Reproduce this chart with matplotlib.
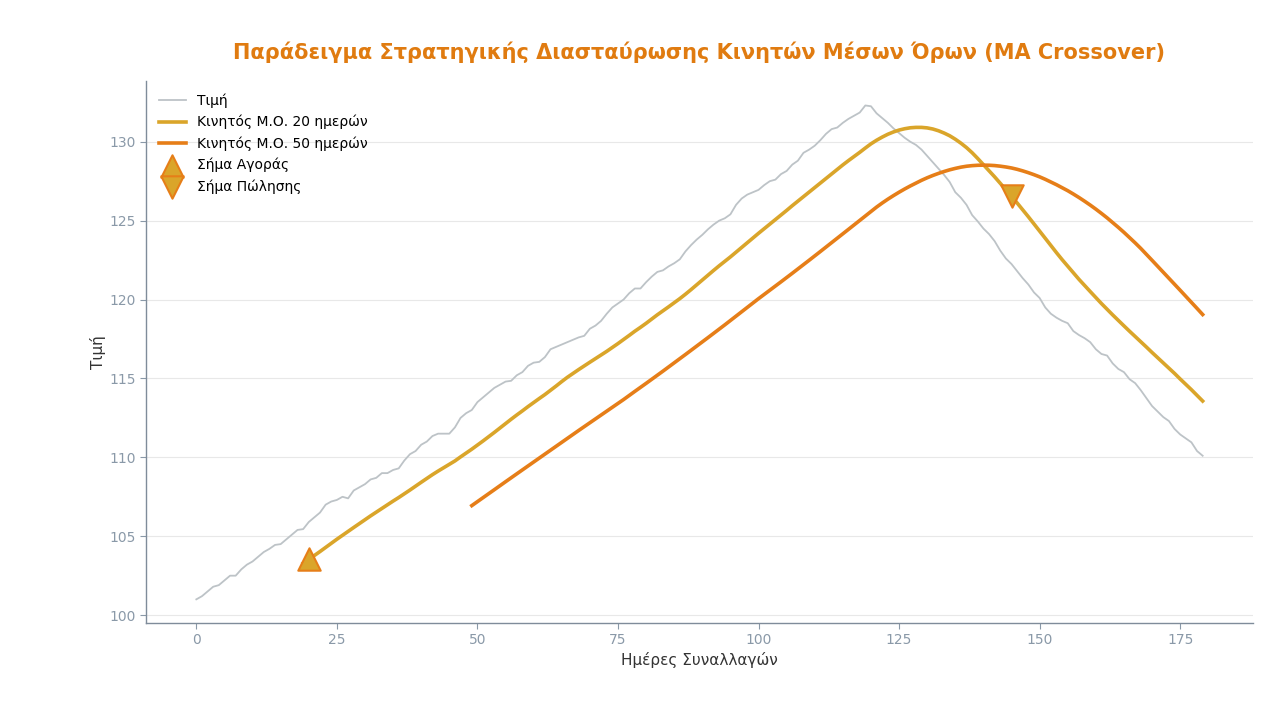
import matplotlib
matplotlib.use("Agg")
import matplotlib.pyplot as plt
import numpy as np
import pandas as pd

days = list(range(180))
price = [
    101.0, 101.2, 101.5, 101.8, 101.9, 102.2, 102.5, 102.5, 102.9, 103.2,
    103.4, 103.7, 104.0, 104.2, 104.45, 104.5, 104.8, 105.1, 105.4, 105.45,
    105.9, 106.2, 106.5, 107.0, 107.2, 107.3, 107.5, 107.4, 107.9, 108.1,
    108.3, 108.6, 108.7, 109.0, 109.0, 109.2, 109.3, 109.8, 110.2, 110.4,
    110.8, 111.0, 111.35, 111.5, 111.5, 111.5, 111.9, 112.5, 112.8, 113.0,
    113.5, 113.8, 114.1, 114.4, 114.6, 114.8, 114.85, 115.2, 115.4, 115.8,
    116.0, 116.05, 116.35, 116.85, 117.0, 117.15, 117.3, 117.45, 117.6, 117.7,
    118.15, 118.35, 118.65, 119.1, 119.5, 119.75, 120.0, 120.4, 120.7, 120.7,
    121.1, 121.45, 121.75, 121.85, 122.1, 122.3, 122.55, 123.05, 123.45, 123.8,
    124.1, 124.45, 124.75, 125.0, 125.15, 125.4, 126.0, 126.4, 126.65, 126.8,
    126.95, 127.25, 127.5, 127.6, 127.95, 128.15, 128.55, 128.8, 129.3, 129.5,
    129.75, 130.1, 130.5, 130.8, 130.9, 131.2, 131.45, 131.65, 131.85, 132.3,
    132.25, 131.8, 131.5, 131.2, 130.85, 130.55, 130.25, 130.0, 129.8, 129.5,
    129.1, 128.7, 128.3, 127.9, 127.45, 126.8, 126.45, 126.0, 125.35, 124.95,
    124.5, 124.15, 123.7, 123.1, 122.6, 122.25, 121.8, 121.35, 120.95, 120.45,
    120.1, 119.5, 119.1, 118.85, 118.65, 118.5, 118.0, 117.75, 117.55, 117.3,
    116.85, 116.55, 116.45, 115.95, 115.6, 115.4, 114.95, 114.7, 114.25, 113.75,
    113.25, 112.9, 112.55, 112.3, 111.8, 111.45, 111.2, 110.95, 110.4, 110.1,
]
buy_days = [20]
sell_days = [145]

title = "Παράδειγμα Στρατηγικής Διασταύρωσης Κινητών Μέσων Όρων (MA Crossover)"
xlabel = "Ημέρες Συναλλαγών"
ylabel = "Τιμή"
lbl_price = "Τιμή"
lbl_ma20 = "Κινητός Μ.Ο. 20 ημερών"
lbl_ma50 = "Κινητός Μ.Ο. 50 ημερών"
lbl_buy = "Σήμα Αγοράς"
lbl_sell = "Σήμα Πώλησης"

s = pd.Series(price, index=days)
ma20 = s.rolling(20).mean()
ma50 = s.rolling(50).mean()

C_PRICE = "#bdc3c7"
C_MA20 = "#DAA52A"
C_MA50 = "#E67E18"
C_TITLE = "#E07B10"
C_TICK = "#8a99a8"
C_SPINE = "#7f8c9a"

fig = plt.figure(figsize=(12.83, 7.13), dpi=100)
ax = fig.add_axes([0.1138, 0.1262, 0.8628, 0.7602])

ax.plot(days, price, color=C_PRICE, lw=1.3, label=lbl_price, zorder=2)
ax.plot(days, ma20, color=C_MA20, lw=2.6, label=lbl_ma20, zorder=3)
ax.plot(days, ma50, color=C_MA50, lw=2.6, label=lbl_ma50, zorder=3)
ax.scatter(buy_days, ma20[buy_days], marker="^", s=260, facecolor=C_MA20,
           edgecolor=C_MA50, linewidths=1.5, label=lbl_buy, zorder=5)
ax.scatter(sell_days, ma20[sell_days], marker="v", s=260, facecolor=C_MA20,
           edgecolor=C_MA50, linewidths=1.5, label=lbl_sell, zorder=5)

ax.set_xlim(-8.95, 187.95)
ax.set_ylim(99.5, 133.85)
ax.set_xticks([0, 25, 50, 75, 100, 125, 150, 175])
ax.set_yticks([100, 105, 110, 115, 120, 125, 130])
ax.grid(axis="y", color="#e8e8e8", lw=0.8)
ax.set_axisbelow(True)
for sp in ["top", "right"]:
    ax.spines[sp].set_visible(False)
for sp in ["left", "bottom"]:
    ax.spines[sp].set_color(C_SPINE)
    ax.spines[sp].set_linewidth(1.0)
ax.tick_params(colors=C_TICK, labelsize=10, length=4, width=0.8)
ax.set_xlabel(xlabel, fontsize=11, color="#333333", labelpad=3)
ax.set_ylabel(ylabel, fontsize=11, color="#333333", labelpad=2)
ax.set_title(title, fontsize=15, fontweight="bold", color=C_TITLE, pad=15.5)

leg = ax.legend(loc="upper left", frameon=False, fontsize=10,
                labelspacing=0.5, handlelength=2.0, borderaxespad=0.5)

fig.savefig("out.png", dpi=100)
